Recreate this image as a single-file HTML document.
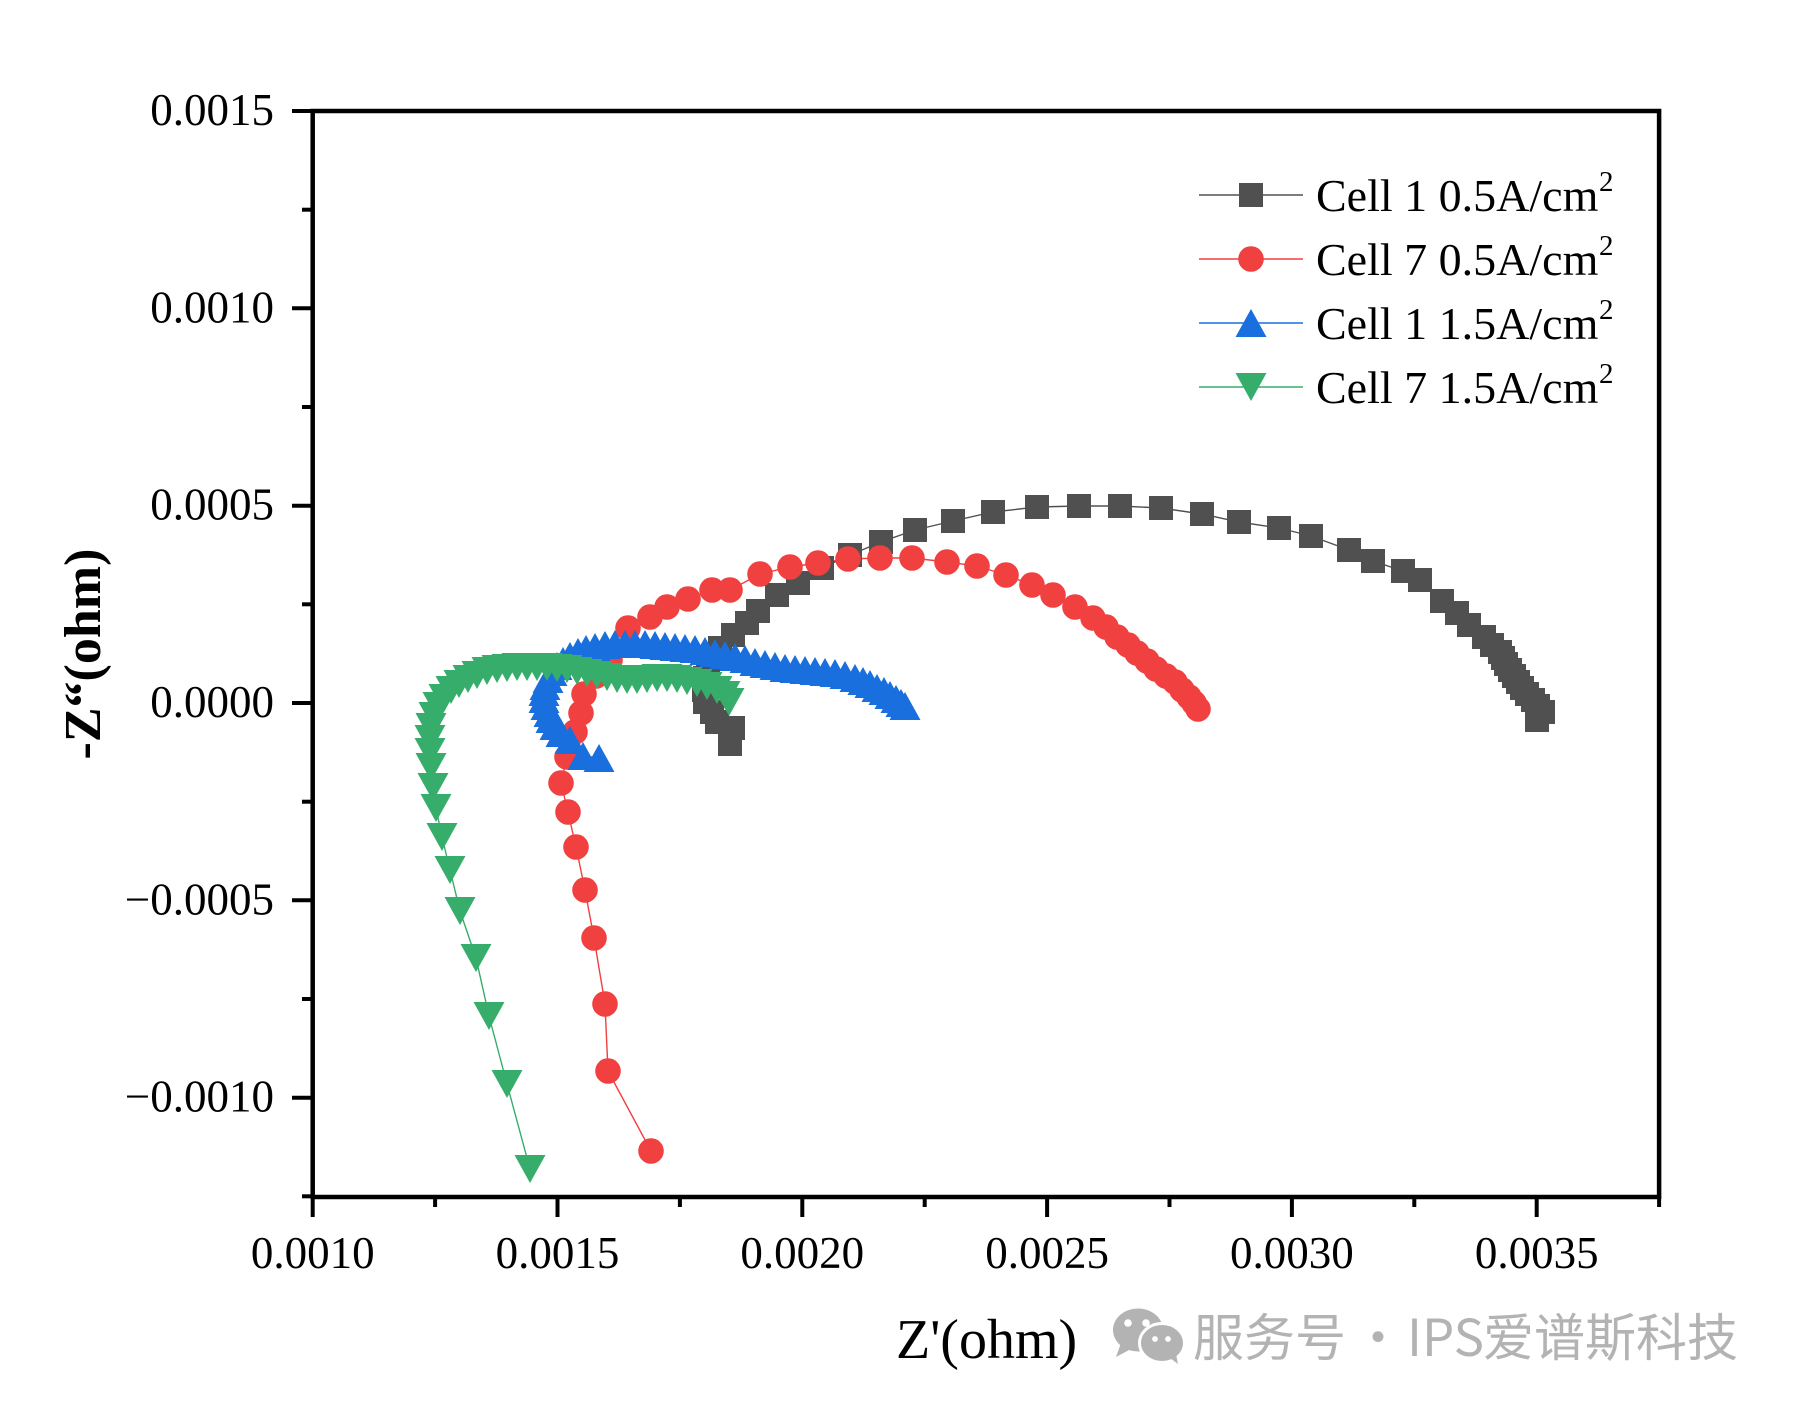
<!DOCTYPE html>
<html>
<head>
<meta charset="utf-8">
<style>
html,body{margin:0;padding:0;background:#fff;width:1794px;height:1410px;overflow:hidden}
svg{display:block}
</style>
</head>
<body>
<svg width="1794" height="1410" viewBox="0 0 1794 1410" xmlns="http://www.w3.org/2000/svg">
<defs>
<rect id="sq" x="-12" y="-12" width="24" height="24" fill="#505050"/>
<circle id="ci" r="12.8" fill="#f04040"/>
<path id="tu" d="M0,-14 L15.5,14 L-15.5,14Z" fill="#1a6fdf"/>
<path id="td" d="M0,14 L15.5,-14 L-15.5,-14Z" fill="#37ad6b"/>
</defs>
<rect x="0" y="0" width="1794" height="1410" fill="#fff"/>

<!-- axes frame -->
<rect x="312.7" y="111" width="1346.4" height="1086" fill="none" stroke="#000" stroke-width="4.5"/>
<g stroke="#000" stroke-width="4">
<line x1="292" y1="111" x2="313" y2="111"/>
<line x1="292" y1="308.3" x2="313" y2="308.3"/>
<line x1="292" y1="505.7" x2="313" y2="505.7"/>
<line x1="292" y1="703" x2="313" y2="703"/>
<line x1="292" y1="900.3" x2="313" y2="900.3"/>
<line x1="292" y1="1097.7" x2="313" y2="1097.7"/>
<line x1="302" y1="209.7" x2="313" y2="209.7"/>
<line x1="302" y1="407" x2="313" y2="407"/>
<line x1="302" y1="604.3" x2="313" y2="604.3"/>
<line x1="302" y1="801.7" x2="313" y2="801.7"/>
<line x1="302" y1="999" x2="313" y2="999"/>
<line x1="302" y1="1196.3" x2="313" y2="1196.3"/>
<line x1="312.7" y1="1196" x2="312.7" y2="1217"/>
<line x1="557.5" y1="1196" x2="557.5" y2="1217"/>
<line x1="802.3" y1="1196" x2="802.3" y2="1217"/>
<line x1="1047.1" y1="1196" x2="1047.1" y2="1217"/>
<line x1="1291.9" y1="1196" x2="1291.9" y2="1217"/>
<line x1="1536.7" y1="1196" x2="1536.7" y2="1217"/>
<line x1="435.1" y1="1196" x2="435.1" y2="1207"/>
<line x1="679.9" y1="1196" x2="679.9" y2="1207"/>
<line x1="924.7" y1="1196" x2="924.7" y2="1207"/>
<line x1="1169.5" y1="1196" x2="1169.5" y2="1207"/>
<line x1="1414.3" y1="1196" x2="1414.3" y2="1207"/>
<line x1="1659.1" y1="1196" x2="1659.1" y2="1207"/>
</g>

<!-- tick labels -->
<g font-family="'Liberation Serif', 'Times New Roman', serif" font-size="45" fill="#000">
<text x="274" y="125" text-anchor="end">0.0015</text>
<text x="274" y="322.3" text-anchor="end">0.0010</text>
<text x="274" y="519.7" text-anchor="end">0.0005</text>
<text x="274" y="717" text-anchor="end">0.0000</text>
<text x="274" y="914.3" text-anchor="end">−0.0005</text>
<text x="274" y="1111.7" text-anchor="end">−0.0010</text>
<text x="312.7" y="1268" text-anchor="middle">0.0010</text>
<text x="557.5" y="1268" text-anchor="middle">0.0015</text>
<text x="802.3" y="1268" text-anchor="middle">0.0020</text>
<text x="1047.1" y="1268" text-anchor="middle">0.0025</text>
<text x="1291.9" y="1268" text-anchor="middle">0.0030</text>
<text x="1536.7" y="1268" text-anchor="middle">0.0035</text>
</g>

<!-- axis titles -->
<text transform="translate(100,654) rotate(-90)" text-anchor="middle" font-family="'Liberation Serif', 'Times New Roman', serif" font-size="52" font-weight="bold" fill="#000">-Z“(ohm)</text>
<text x="896" y="1358" font-family="'Liberation Serif', 'Times New Roman', serif" font-size="56" fill="#000">Z'(ohm)</text>

<!-- series lines -->
<g fill="none" stroke-width="1.4">
<polyline stroke="#505050" points="730,744 733,728 717,722 712,712 705,702 704,690 705,678 708,668 713,658 720,648 733,635 747,623 758,611 777,595 798,583 822,568 850,555 881,542 915,530 953,521 993,512 1037,507 1079,506 1120,506 1161,508 1202,514 1239,522 1279,528 1311,536 1349,550 1373,561 1403,571 1420,580 1442,601 1457,613 1469,625 1484,637 1492,645 1500,652 1503,658 1506,664 1510,670 1514,676 1518,682 1522,688 1527,694 1533,700 1538,706 1543,712 1537,720"/>
<polyline stroke="#f04040" points="651,1151 608,1071 605,1004 594,938 585,890 576,847 568,812 561,783 567,757 575,732 581,713 584,694 596,676 610,660 628,628 650,617 667,607 688,599 712,590 730,590 760,574 790,567 818,563 848,559 880,558 912,558 947,562 977,566 1006,575 1032,585 1053,595 1075,607 1093,618 1106,627 1117,637 1128,645 1137,653 1147,661 1156,669 1166,676 1175,682 1182,690 1189,697 1194,703 1198,709"/>
<polyline stroke="#1a6fdf" points="599,758 583,756 570,740 561,733 555,726 551,719 549,713 546,706 544,699 544,692 545,686 548,679 552,672 557,666 563,661 570,656 578,652 586,649 595,647 605,645 615,644 625,644 635,644 645,644 655,645 665,646 675,647 685,648 695,649 705,651 715,653 725,655 735,657 745,659 755,662 765,664 775,666 785,668 795,669 805,670 815,671 825,672 835,673 845,675 855,678 863,681 870,684 877,688 884,691 890,695 896,699 901,703 905,706"/>
<polyline stroke="#37ad6b" points="530,1169 507,1084 489,1016 476,958 460,911 450,870 442,837 436,808 433,787 431,767 430,752 430,739 431,727 434,716 438,706 444,698 451,690 459,684 468,679 477,675 487,671 497,669 507,668 517,667 527,667 537,667 547,667 557,668 567,669 577,671 587,673 597,675 607,677 617,679 627,680 637,680 647,679 657,678 667,678 677,679 687,681 697,683 707,686 717,690 725,695 729,702"/>
</g>

<!-- black squares -->
<g>
<use href="#sq" x="730" y="744"/><use href="#sq" x="733" y="728"/><use href="#sq" x="717" y="722"/><use href="#sq" x="712" y="712"/><use href="#sq" x="705" y="702"/><use href="#sq" x="704" y="690"/><use href="#sq" x="705" y="678"/><use href="#sq" x="708" y="668"/><use href="#sq" x="713" y="658"/><use href="#sq" x="720" y="648"/><use href="#sq" x="733" y="635"/><use href="#sq" x="747" y="623"/><use href="#sq" x="758" y="611"/><use href="#sq" x="777" y="595"/><use href="#sq" x="798" y="583"/><use href="#sq" x="822" y="568"/><use href="#sq" x="850" y="555"/><use href="#sq" x="881" y="542"/><use href="#sq" x="915" y="530"/><use href="#sq" x="953" y="521"/><use href="#sq" x="993" y="512"/><use href="#sq" x="1037" y="507"/><use href="#sq" x="1079" y="506"/><use href="#sq" x="1120" y="506"/><use href="#sq" x="1161" y="508"/><use href="#sq" x="1202" y="514"/><use href="#sq" x="1239" y="522"/><use href="#sq" x="1279" y="528"/><use href="#sq" x="1311" y="536"/><use href="#sq" x="1349" y="550"/><use href="#sq" x="1373" y="561"/><use href="#sq" x="1403" y="571"/><use href="#sq" x="1420" y="580"/><use href="#sq" x="1442" y="601"/><use href="#sq" x="1457" y="613"/><use href="#sq" x="1469" y="625"/><use href="#sq" x="1484" y="637"/><use href="#sq" x="1492" y="645"/><use href="#sq" x="1500" y="652"/><use href="#sq" x="1503" y="658"/><use href="#sq" x="1506" y="664"/><use href="#sq" x="1510" y="670"/><use href="#sq" x="1514" y="676"/><use href="#sq" x="1518" y="682"/><use href="#sq" x="1522" y="688"/><use href="#sq" x="1527" y="694"/><use href="#sq" x="1533" y="700"/><use href="#sq" x="1538" y="706"/><use href="#sq" x="1543" y="712"/><use href="#sq" x="1537" y="720"/>
</g>

<!-- red circles -->
<g>
<use href="#ci" x="651" y="1151"/><use href="#ci" x="608" y="1071"/><use href="#ci" x="605" y="1004"/><use href="#ci" x="594" y="938"/><use href="#ci" x="585" y="890"/><use href="#ci" x="576" y="847"/><use href="#ci" x="568" y="812"/><use href="#ci" x="561" y="783"/><use href="#ci" x="567" y="757"/><use href="#ci" x="575" y="732"/><use href="#ci" x="581" y="713"/><use href="#ci" x="584" y="694"/><use href="#ci" x="596" y="676"/><use href="#ci" x="610" y="660"/><use href="#ci" x="628" y="628"/><use href="#ci" x="650" y="617"/><use href="#ci" x="667" y="607"/><use href="#ci" x="688" y="599"/><use href="#ci" x="712" y="590"/><use href="#ci" x="730" y="590"/><use href="#ci" x="760" y="574"/><use href="#ci" x="790" y="567"/><use href="#ci" x="818" y="563"/><use href="#ci" x="848" y="559"/><use href="#ci" x="880" y="558"/><use href="#ci" x="912" y="558"/><use href="#ci" x="947" y="562"/><use href="#ci" x="977" y="566"/><use href="#ci" x="1006" y="575"/><use href="#ci" x="1032" y="585"/><use href="#ci" x="1053" y="595"/><use href="#ci" x="1075" y="607"/><use href="#ci" x="1093" y="618"/><use href="#ci" x="1106" y="627"/><use href="#ci" x="1117" y="637"/><use href="#ci" x="1128" y="645"/><use href="#ci" x="1137" y="653"/><use href="#ci" x="1147" y="661"/><use href="#ci" x="1156" y="669"/><use href="#ci" x="1166" y="676"/><use href="#ci" x="1175" y="682"/><use href="#ci" x="1182" y="690"/><use href="#ci" x="1189" y="697"/><use href="#ci" x="1194" y="703"/><use href="#ci" x="1198" y="709"/>
</g>

<!-- blue up triangles -->
<g>
<use href="#tu" x="599" y="758"/><use href="#tu" x="583" y="756"/><use href="#tu" x="570" y="740"/><use href="#tu" x="561" y="733"/><use href="#tu" x="555" y="726"/><use href="#tu" x="551" y="719"/><use href="#tu" x="549" y="713"/><use href="#tu" x="546" y="706"/><use href="#tu" x="544" y="699"/><use href="#tu" x="544" y="692"/><use href="#tu" x="545" y="686"/><use href="#tu" x="548" y="679"/><use href="#tu" x="552" y="672"/><use href="#tu" x="557" y="666"/><use href="#tu" x="563" y="661"/><use href="#tu" x="570" y="656"/><use href="#tu" x="578" y="652"/><use href="#tu" x="586" y="649"/><use href="#tu" x="595" y="647"/><use href="#tu" x="605" y="645"/><use href="#tu" x="615" y="644"/><use href="#tu" x="625" y="644"/><use href="#tu" x="635" y="644"/><use href="#tu" x="645" y="644"/><use href="#tu" x="655" y="645"/><use href="#tu" x="665" y="646"/><use href="#tu" x="675" y="647"/><use href="#tu" x="685" y="648"/><use href="#tu" x="695" y="649"/><use href="#tu" x="705" y="651"/><use href="#tu" x="715" y="653"/><use href="#tu" x="725" y="655"/><use href="#tu" x="735" y="657"/><use href="#tu" x="745" y="659"/><use href="#tu" x="755" y="662"/><use href="#tu" x="765" y="664"/><use href="#tu" x="775" y="666"/><use href="#tu" x="785" y="668"/><use href="#tu" x="795" y="669"/><use href="#tu" x="805" y="670"/><use href="#tu" x="815" y="671"/><use href="#tu" x="825" y="672"/><use href="#tu" x="835" y="673"/><use href="#tu" x="845" y="675"/><use href="#tu" x="855" y="678"/><use href="#tu" x="863" y="681"/><use href="#tu" x="870" y="684"/><use href="#tu" x="877" y="688"/><use href="#tu" x="884" y="691"/><use href="#tu" x="890" y="695"/><use href="#tu" x="896" y="699"/><use href="#tu" x="901" y="703"/><use href="#tu" x="905" y="706"/>
</g>

<!-- green down triangles -->
<g>
<use href="#td" x="530" y="1169"/><use href="#td" x="507" y="1084"/><use href="#td" x="489" y="1016"/><use href="#td" x="476" y="958"/><use href="#td" x="460" y="911"/><use href="#td" x="450" y="870"/><use href="#td" x="442" y="837"/><use href="#td" x="436" y="808"/><use href="#td" x="433" y="787"/><use href="#td" x="431" y="767"/><use href="#td" x="430" y="752"/><use href="#td" x="430" y="739"/><use href="#td" x="431" y="727"/><use href="#td" x="434" y="716"/><use href="#td" x="438" y="706"/><use href="#td" x="444" y="698"/><use href="#td" x="451" y="690"/><use href="#td" x="459" y="684"/><use href="#td" x="468" y="679"/><use href="#td" x="477" y="675"/><use href="#td" x="487" y="671"/><use href="#td" x="497" y="669"/><use href="#td" x="507" y="668"/><use href="#td" x="517" y="667"/><use href="#td" x="527" y="667"/><use href="#td" x="537" y="667"/><use href="#td" x="547" y="667"/><use href="#td" x="557" y="668"/><use href="#td" x="567" y="669"/><use href="#td" x="577" y="671"/><use href="#td" x="587" y="673"/><use href="#td" x="597" y="675"/><use href="#td" x="607" y="677"/><use href="#td" x="617" y="679"/><use href="#td" x="627" y="680"/><use href="#td" x="637" y="680"/><use href="#td" x="647" y="679"/><use href="#td" x="657" y="678"/><use href="#td" x="667" y="678"/><use href="#td" x="677" y="679"/><use href="#td" x="687" y="681"/><use href="#td" x="697" y="683"/><use href="#td" x="707" y="686"/><use href="#td" x="717" y="690"/><use href="#td" x="725" y="695"/><use href="#td" x="729" y="702"/>
</g>

<!-- legend -->
<g stroke-width="1.6">
<line x1="1199" y1="195" x2="1303" y2="195" stroke="#505050"/>
<line x1="1199" y1="259" x2="1303" y2="259" stroke="#f04040"/>
<line x1="1199" y1="323" x2="1303" y2="323" stroke="#1a6fdf"/>
<line x1="1199" y1="387" x2="1303" y2="387" stroke="#37ad6b"/>
</g>
<use href="#sq" x="1251" y="195"/>
<use href="#ci" x="1251" y="259"/>
<use href="#tu" x="1251" y="323"/>
<use href="#td" x="1251" y="387"/>
<g font-family="'Liberation Serif', 'Times New Roman', serif" fill="#000">
<text x="1316" y="211" font-size="46">Cell 1 0.5A/cm</text><text x="1599" y="191" font-size="29">2</text>
<text x="1316" y="275" font-size="46">Cell 7 0.5A/cm</text><text x="1599" y="255" font-size="29">2</text>
<text x="1316" y="339" font-size="46">Cell 1 1.5A/cm</text><text x="1599" y="319" font-size="29">2</text>
<text x="1316" y="403" font-size="46">Cell 7 1.5A/cm</text><text x="1599" y="383" font-size="29">2</text>
</g>

<!-- watermark -->
<g fill="#b3b3b3">
<ellipse cx="1138" cy="1330" rx="25" ry="21.5"/>
<path d="M1121,1343 L1116,1357 L1131,1349Z"/>
<ellipse cx="1162" cy="1343" rx="22.5" ry="19.5" stroke="#fff" stroke-width="3"/>
<path d="M1170,1358 L1178,1364 L1176,1354Z"/>
</g>
<g fill="#fff">
<circle cx="1128" cy="1323" r="3.8"/>
<circle cx="1146" cy="1323" r="3.8"/>
<circle cx="1155" cy="1339" r="2.9"/>
<circle cx="1168" cy="1339" r="2.9"/>
</g>
<g font-family="'Noto Sans CJK SC', 'WenQuanYi Zen Hei', sans-serif" font-size="51" fill="#b3b3b3">
<text x="1193" y="1356">服务号</text>
<text x="1378" y="1356" text-anchor="middle">·</text>
<text x="1407" y="1356">IPS</text>
<text x="1483" y="1356">爱谱斯科技</text>
</g>
</svg>
</body>
</html>
